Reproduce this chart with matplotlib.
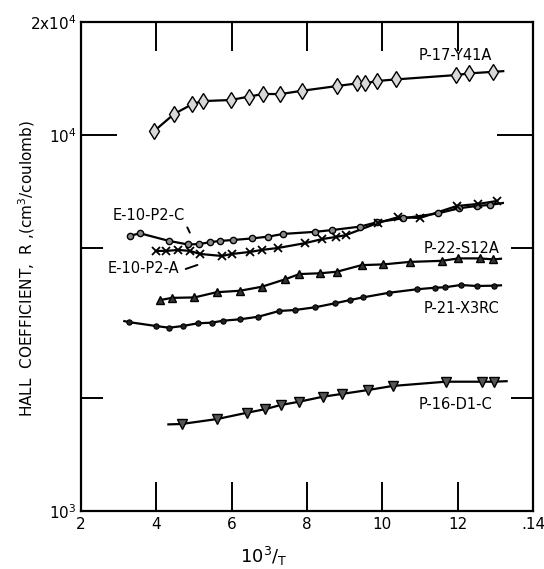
import matplotlib
matplotlib.use("Agg")
import matplotlib.pyplot as plt
from matplotlib.ticker import FixedLocator, NullFormatter

# ---- data (x = 10^3/T, y = Hall coefficient) ----
p17_x = [3.95, 4.47, 4.96, 5.23, 5.97, 6.45, 6.84, 7.29, 7.88, 8.80, 9.32, 9.53, 9.85, 10.36, 11.96, 12.31, 12.95]
p17_y = [10270, 11380, 12100, 12320, 12400, 12660, 12870, 12860, 13130, 13510, 13730, 13730, 13930, 14070, 14450, 14600, 14740]
p17_end = (13.21, 14800)

e10c_x = [3.30, 3.57, 4.34, 4.83, 5.14, 5.42, 5.69, 6.03, 6.53, 6.97, 7.37, 8.21, 8.66, 9.41, 9.87, 10.56, 11.47, 12.04, 12.50, 12.86]
e10c_y = [5400, 5480, 5230, 5120, 5130, 5190, 5230, 5260, 5310, 5370, 5460, 5530, 5590, 5710, 5870, 6010, 6190, 6390, 6480, 6520]
e10c_end = (13.2, 6600)

e10a_x = [3.99, 4.26, 4.58, 4.89, 5.16, 5.74, 6.01, 6.49, 6.80, 7.23, 7.95, 8.40, 8.77, 9.03, 9.88, 10.42, 11.00, 11.98, 12.54, 13.04]
e10a_y = [4920, 4920, 4950, 4920, 4830, 4770, 4830, 4890, 4950, 5010, 5160, 5290, 5360, 5420, 5840, 6050, 6020, 6480, 6560, 6680]

p22_x = [4.10, 4.41, 5.01, 5.60, 6.22, 6.80, 7.42, 7.80, 8.34, 8.79, 9.45, 10.03, 10.73, 11.58, 12.02, 12.59, 12.95]
p22_y = [3640, 3690, 3700, 3820, 3855, 3950, 4135, 4270, 4290, 4330, 4510, 4530, 4600, 4630, 4700, 4700, 4670]
p22_end = (13.15, 4690)

p21_x = [3.28, 3.99, 4.34, 4.70, 5.10, 5.47, 5.78, 6.22, 6.71, 7.26, 7.68, 8.21, 8.74, 9.14, 9.49, 10.18, 10.91, 11.40, 11.66, 12.08, 12.50, 12.96]
p21_y = [3180, 3106, 3073, 3106, 3158, 3170, 3209, 3236, 3288, 3405, 3426, 3483, 3569, 3641, 3702, 3808, 3889, 3927, 3937, 3993, 3969, 3976]
p21_start = (3.15, 3200)
p21_end = (13.15, 3985)

p16_x = [4.67, 5.62, 6.41, 6.88, 7.30, 7.80, 8.42, 8.92, 9.63, 10.27, 11.68, 12.64, 12.96]
p16_y = [1704, 1757, 1826, 1865, 1914, 1954, 2014, 2048, 2099, 2151, 2208, 2208, 2208]
p16_start = (4.32, 1700)
p16_end = (13.3, 2215)

x_ticks = [2, 4, 6, 8, 10, 12, 14]
x_ticklabels = ["2", "4", "6", "8", "10", "12", ".14"]
y_major = [1000, 10000, 20000]
y_major_labels = [r"10$^3$", r"10$^4$", r"2x10$^4$"]
y_minor = [2000, 5000]

# ---- figure ----
fig = plt.figure(figsize=(5.44, 5.69), dpi=100)
ax = fig.add_axes([81/544, 1 - 511/569, (533 - 81)/544, (511 - 22)/569])
ax.set_yscale("log")
ax.set_xlim(2, 14)
ax.set_ylim(1000, 20000)

lw = 1.6
def curve(xs, ys, start=None, end=None):
    lx, ly = list(xs), list(ys)
    if start is not None:
        lx.insert(0, start[0]); ly.insert(0, start[1])
    if end is not None:
        lx.append(end[0]); ly.append(end[1])
    ax.plot(lx, ly, color="black", lw=lw, zorder=2)

curve(p17_x, p17_y, end=p17_end)
ax.plot(p17_x, p17_y, ls="none", marker="d", ms=8, mfc="#d8d8d8", mec="black", mew=1.0, zorder=3)

curve(e10c_x, e10c_y, end=e10c_end)
ax.plot(e10c_x, e10c_y, ls="none", marker="o", ms=4.5, mfc="#8a8a8a", mec="black", mew=1.0, zorder=3)

curve(e10a_x, e10a_y)
ax.plot(e10a_x, e10a_y, ls="none", marker="x", ms=5.5, mec="black", mew=1.3, zorder=3)

curve(p22_x, p22_y, end=p22_end)
ax.plot(p22_x, p22_y, ls="none", marker="^", ms=6, mfc="#333333", mec="black", mew=1.0, zorder=3)

curve(p21_x, p21_y, start=p21_start, end=p21_end)
ax.plot(p21_x, p21_y, ls="none", marker="o", ms=3.8, mfc="#222222", mec="black", mew=0.8, zorder=3)

curve(p16_x, p16_y, start=p16_start, end=p16_end)
ax.plot(p16_x, p16_y, ls="none", marker="v", ms=6.5, mfc="#555555", mec="black", mew=1.0, zorder=3)

# ---- ticks / spines ----
ax.set_xticks(x_ticks)
ax.set_xticklabels(x_ticklabels)
ax.yaxis.set_major_locator(FixedLocator(y_major))
ax.set_yticklabels(y_major_labels)
ax.yaxis.set_minor_locator(FixedLocator(y_minor))
ax.yaxis.set_minor_formatter(NullFormatter())
ax.tick_params(axis="x", which="major", direction="in", top=True, bottom=True,
               length=21, width=1.4, labelsize=11, pad=4)
ax.tick_params(axis="y", which="major", direction="in", left=True, right=True,
               length=26, width=1.4, labelsize=11, pad=3)
ax.tick_params(axis="y", which="minor", direction="in", left=True, right=True,
               length=16, width=1.4)
for s in ax.spines.values():
    s.set_linewidth(1.6)

# ---- labels ----
fs = 10.5
ax.text(11.93, 16300, "P-17-Y41A", fontsize=fs, ha="center", va="center")
ax.text(3.79, 6130, "E-10-P2-C", fontsize=fs, ha="center", va="center")
ax.text(3.67, 4430, "E-10-P2-A", fontsize=fs, ha="center", va="center")
ax.text(12.1, 4980, "P-22-S12A", fontsize=fs, ha="center", va="center")
ax.text(12.1, 3467, "P-21-X3RC", fontsize=fs, ha="center", va="center")
ax.text(11.93, 1926, "P-16-D1-C", fontsize=fs, ha="center", va="center")
# pointer strokes
ax.annotate("", xy=(4.92, 5420), xytext=(4.79, 5770),
            arrowprops=dict(arrowstyle="-", lw=1.4, color="black"))
ax.annotate("", xy=(5.16, 4540), xytext=(4.71, 4380),
            arrowprops=dict(arrowstyle="-", lw=1.4, color="black"))

fig.text(27/544, 1 - 268/569, r"HALL  COEFFICIENT,  R ,(cm$^3$/coulomb)",
         rotation=90, fontsize=11, ha="center", va="center")
fig.text(264/544, 1 - 556/569, r"10$^3$/$_\mathregular{T}$", fontsize=13,
         ha="center", va="center")

fig.savefig("out.png", dpi=100)
